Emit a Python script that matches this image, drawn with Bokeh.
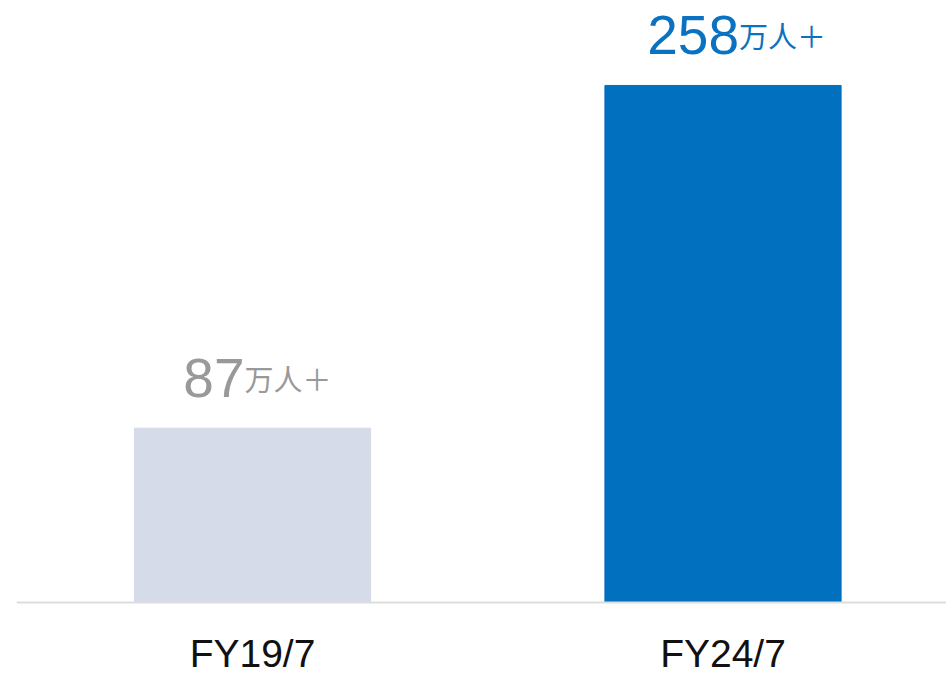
from bokeh.plotting import figure
from bokeh.models import ColumnDataSource, Range1d, Span
from bokeh.core.properties import value
from bokeh.embed import file_html
from bokeh.resources import INLINE

categories = ["FY19/7", "FY24/7"]
values = [87, 258]
value_labels = ["87", "258"]
unit_label = "万人＋"
bar_colors = ["#d5dbe8", "#0070bf"]
text_colors = ["#999999", "#0a72c0"]

xs = list(range(len(categories)))
# split point between big number and unit text, shifted by digit count
splits = [x + (24 * len(s) - 56) / 470.5 for x, s in zip(xs, value_labels)]

src = ColumnDataSource(dict(x=xs, top=values, color=bar_colors, tcolor=text_colors,
                            num=value_labels, unit=[unit_label] * len(xs), sx=splits,
                            cat=categories, zero=[0] * len(xs)))

p = figure(width=946, height=677, output_backend="svg", toolbar_location=None,
           x_range=Range1d(-0.5016, 1.4750), y_range=Range1d(-37.43, 300.4),
           x_axis_location=None, y_axis_location=None,
           min_border_left=16, min_border_right=0, min_border_top=0, min_border_bottom=0)
p.outline_line_color = None
p.xgrid.grid_line_color = None
p.ygrid.grid_line_color = None
p.background_fill_color = "white"
p.border_fill_color = "white"

p.vbar(x="x", top="top", bottom=0, width=0.502, color="color", source=src)
p.add_layout(Span(location=0, dimension="width", line_color="#dddddd", line_width=2))

p.text(x="sx", y="top", text="num", text_color="tcolor", text_align="right",
       text_baseline="alphabetic", y_offset=-50, text_font=value("Liberation Sans"),
       text_font_size="55px", source=src)
p.text(x="sx", y="top", text="unit", text_color="tcolor", text_align="left",
       text_baseline="alphabetic", y_offset=-50, text_font=value("Noto Sans CJK SC"),
       text_font_size="29px", source=src)

# category labels below the baseline
p.text(x="x", y="zero", text="cat", text_color="#111111", text_align="center",
       text_baseline="alphabetic", y_offset=51, text_font=value("Liberation Sans"),
       text_font_size="39px", source=src)

open("out.html", "w").write(file_html(p, INLINE))
